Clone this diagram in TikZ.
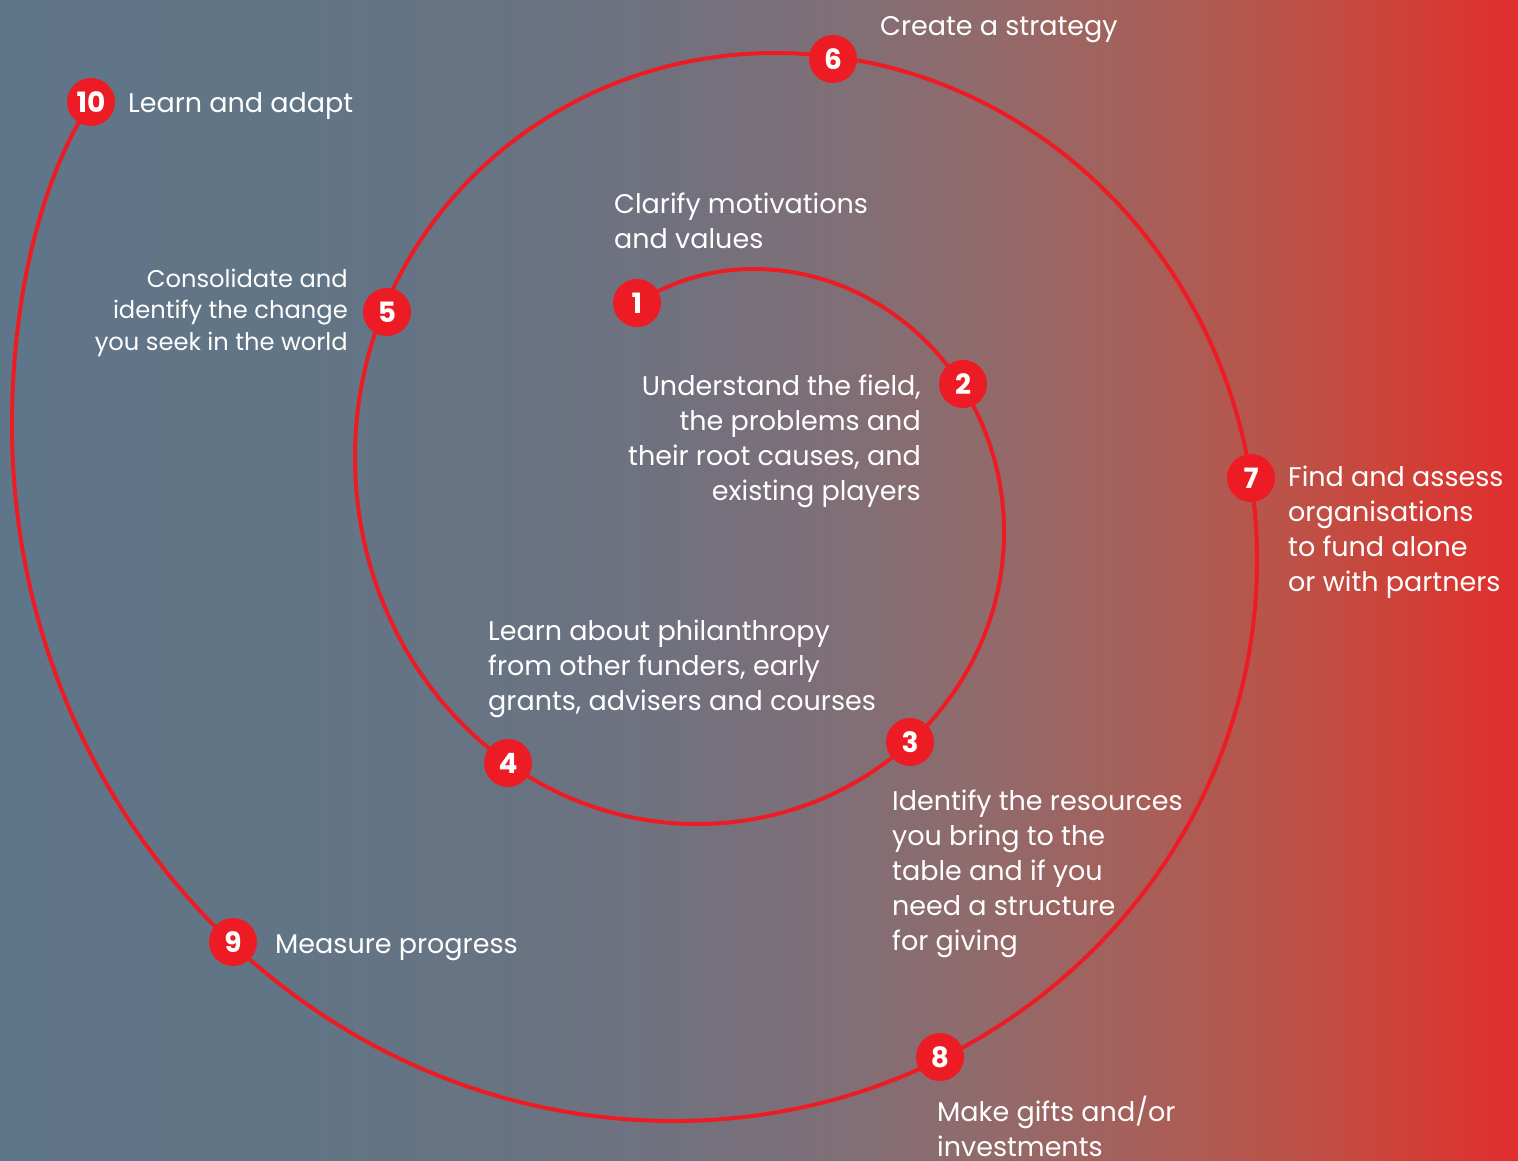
\documentclass[tikz,border=0pt]{standalone}
\usepackage{fontspec}
\setmainfont{Poppins}
\pgfdeclarelayer{backdrop}
\pgfdeclarelayer{track}
\pgfsetlayers{backdrop,track,main}

% background: slate blue on the left fading into red on the right
\pgfdeclarehorizontalshading{backdropshade}{100bp}{%
  rgb(0bp)=(0.373,0.459,0.537);
  rgb(25bp)=(0.373,0.459,0.537);
  rgb(35bp)=(0.384,0.459,0.525);
  rgb(42.5bp)=(0.412,0.451,0.510);
  rgb(47.5bp)=(0.447,0.443,0.494);
  rgb(52.5bp)=(0.498,0.435,0.467);
  rgb(57.5bp)=(0.569,0.416,0.420);
  rgb(62.5bp)=(0.651,0.376,0.353);
  rgb(67.5bp)=(0.737,0.322,0.282);
  rgb(71.5bp)=(0.816,0.251,0.216);
  rgb(75bp)=(0.882,0.176,0.176);
  rgb(100bp)=(0.882,0.176,0.176)}

\definecolor{stepred}{RGB}{237,28,36}

% multi-line labels whose baseline is that of the first line
\newcommand\lblL[1]{\begin{tabular}[t]{@{}l@{}}#1\end{tabular}}
\newcommand\lblR[1]{\begin{tabular}[t]{@{}r@{}}#1\end{tabular}}

\begin{document}
\begin{tikzpicture}[x=1pt,y=-1pt,
  num/.style={circle,fill=stepred,minimum size=48pt,inner sep=0pt,
    text=white,font=\fontsize{28}{30}\selectfont\bfseries},
  lbl/.style={text=white,inner sep=0pt,
    font=\fontsize{27}{35}\selectfont},
  lblsmall/.style={text=white,inner sep=0pt,
    font=\fontsize{24.2}{31.5}\selectfont},
  spiral/.style={draw=stepred,line width=4pt}]

\useasboundingbox (0,0) rectangle (1518,1160);
\begin{pgfonlayer}{backdrop}
  \shade[shading=backdropshade] (0,0) rectangle (1518,1160);
\end{pgfonlayer}

% step markers along the spiral
\node[num] (n1)  at (637,303)  {1};
\node[num] (n2)  at (963,384)  {2};
\node[num] (n3)  at (910,742)  {3};
\node[num] (n4)  at (508,763)  {4};
\node[num] (n5)  at (387,312)  {5};
\node[num] (n6)  at (833,59)   {6};
\node[num] (n7)  at (1251,478) {7};
\node[num] (n8)  at (940,1057) {8};
\node[num] (n9)  at (233,942)  {9};
\node[num] (n10) at (91,102)   {10};

% turning points of the spiral (top, right, bottom, left of each turn)
\coordinate (t1) at (753,269);
\coordinate (r1) at (1004,532);
\coordinate (b1) at (697,824);
\coordinate (l1) at (355,457);
\coordinate (t2) at (775,53);
\coordinate (r2) at (1257,560);
\coordinate (b2) at (674,1121);
\coordinate (l2) at (12,425);

\begin{pgfonlayer}{track}
  \path[spiral] (n1.center)
    .. controls (672.3,280.7) and (712.3,269) .. (t1)
    .. controls (891.6,269) and (1004,386.7) .. (r1)
    .. controls (1004,693.3) and (866.6,824) .. (b1)
    .. controls (508.1,824) and (355,659.7) .. (l1)
    .. controls (355,233.9) and (543,53) .. (t2)
    .. controls (1041.2,53) and (1257,280) .. (r2)
    .. controls (1257,869.8) and (996,1121) .. (b2)
    .. controls (308.4,1121) and (12,809.4) .. (l2)
    .. controls (12,300) and (40,180) .. (n10.center);
\end{pgfonlayer}

% step descriptions
\node[lbl,anchor=base west] (d10) at (128,112) {Learn and adapt};
\node[lbl,anchor=base west] (d6) at (880,35) {Create a strategy};
\node[lbl,anchor=base west] (d1) at (614,213)
  {\lblL{Clarify motivations\\and values}};
\node[lblsmall,anchor=base east] (d5) at (348,287)
  {\lblR{Consolidate and\\identify the change\\you seek in the world}};
\node[lbl,anchor=base east] (d2) at (921,395)
  {\lblR{Understand the field,\\the problems and\\their root causes, and\\existing players}};
\node[lbl,anchor=base west] (d7) at (1288,486)
  {\lblL{Find and assess\\organisations\\to fund alone\\or with partners}};
\node[lbl,anchor=base west] (d4) at (488,640)
  {\lblL{Learn about philanthropy\\from other funders, early\\grants, advisers and courses}};
\node[lbl,anchor=base west] (d3) at (892,810)
  {\lblL{Identify the resources\\you bring to the\\table and if you\\need a structure\\for giving}};
\node[lbl,anchor=base west] (d9) at (275,953) {Measure progress};
\node[lbl,anchor=base west] (d8) at (937,1121)
  {\lblL{Make gifts and/or\\investments}};
\end{tikzpicture}
\end{document}
